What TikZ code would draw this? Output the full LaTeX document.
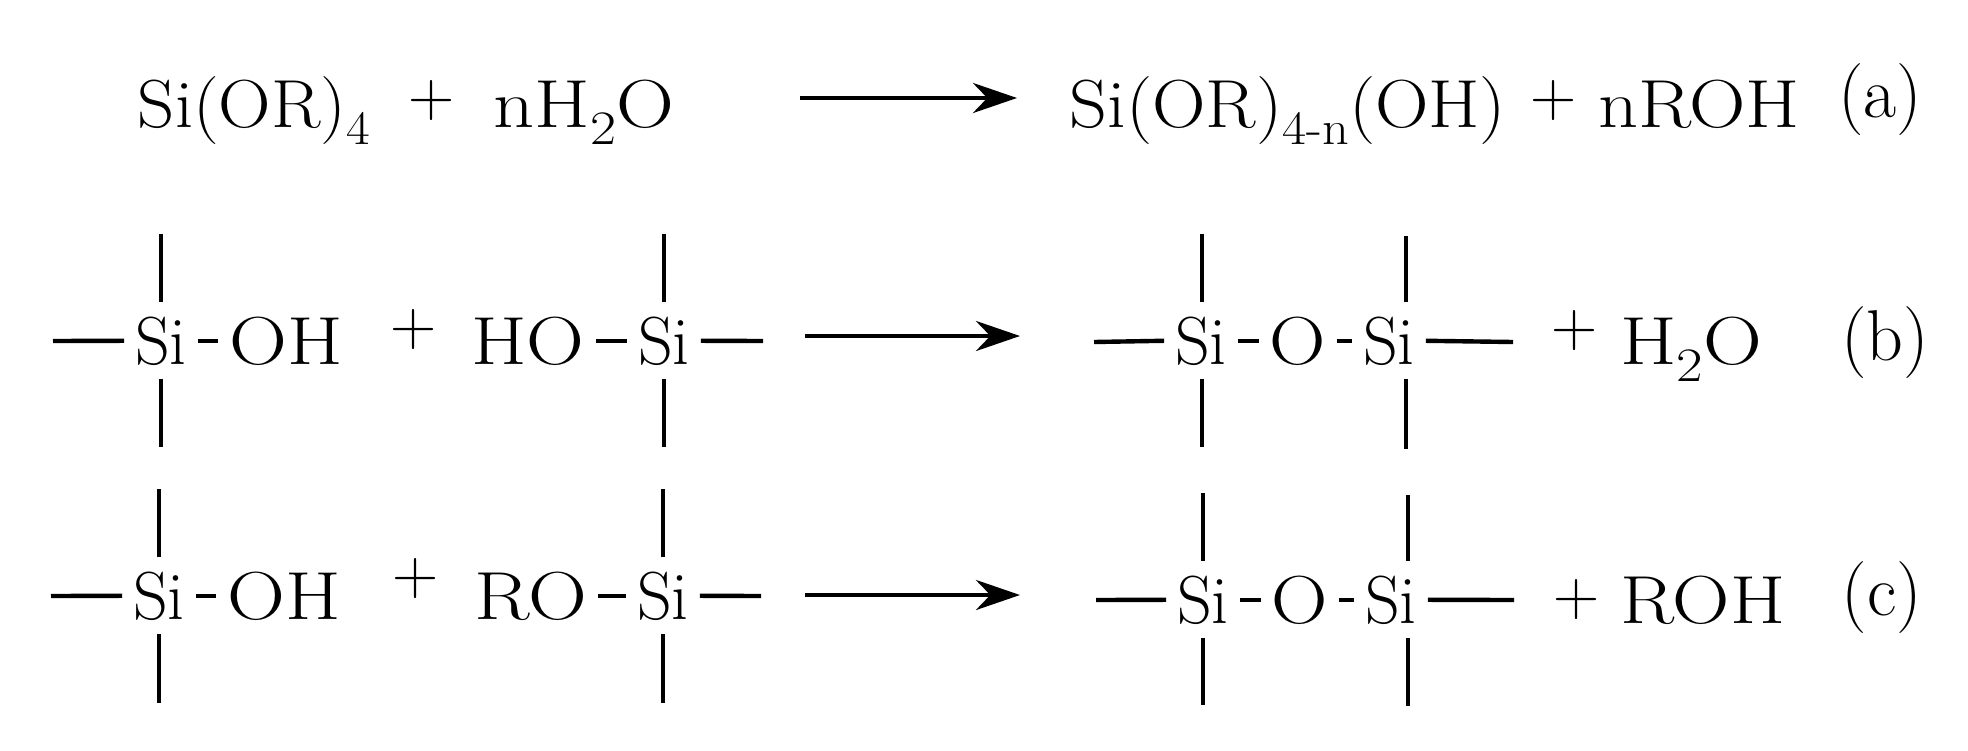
\documentclass[tikz,border=0pt]{standalone}
\usetikzlibrary{arrows.meta}
\newcommand{\chemsub}[1]{\raisebox{-8.5pt}{\fontsize{24}{24}\selectfont #1}}
\newcommand{\chemwide}[2]{\scalebox{#1}[1]{#2}}
\begin{document}
\begin{tikzpicture}[x=0.5pt,y=-0.5pt,
  chem/.style={anchor=base,inner sep=0pt,outer xsep=5.5pt,outer ysep=7pt,font=\fontsize{34}{34}\selectfont},
  plus/.style={inner sep=0pt,font=\fontsize{32}{32}\selectfont},
  tag/.style={inner sep=0pt,font=\fontsize{36}{36}\selectfont},
  bond/.style={line width=1.9pt},
  hbond/.style={line width=2.2pt},
  arrow/.style={line width=2.4pt,-{Stealth[length=22pt,width=15pt]}}]
  \useasboundingbox (0,0) rectangle (1968,750);
  %Reaction a
  \node[chem] (reactA) at (254,127) {\chemwide{1.07}{Si(OR)\chemsub{4}}};
  \node[plus] (plusA) at (432,101) {+};
  \node[chem] (waterA) at (584,127) {\chemwide{1.18}{nH\chemsub{2}O}};
  \coordinate (arrAs) at (800,98);
  \coordinate (arrAe) at (1017,98);
  \draw[arrow] (arrAs) -- (arrAe);
  \node[chem] (prodA) at (1288,127) {\chemwide{1.09}{Si(OR)\chemsub{4-n}(OH)}};
  \node[plus] (plusAr) at (1554,101) {+};
  \node[chem] (rohA) at (1699,127) {\chemwide{1.15}{nROH}};
  \node[tag] (tagA) at (1880,100) {(a)};

  %Reaction b, left side
  \node[chem] (siB1) at (161,364) {Si};
  \node[chem] (ohB) at (286,364) {\chemwide{1.18}{OH}};
  \node[plus] (plusB) at (414,330) {+};
  \node[chem] (hoB) at (528,364) {\chemwide{1.18}{HO}};
  \node[chem] (siB2) at (664,364) {Si};
  \coordinate (endB1) at (53,341);
  \coordinate (endB2) at (763,341);
  \draw[hbond] (endB1) -- (siB1.west);
  \draw[hbond] (siB1.east) -- (ohB.west);
  \draw[hbond] (hoB.east) -- (siB2.west);
  \draw[hbond] (siB2.east) -- (endB2);
  \coordinate (upB1) at (161,234);
  \coordinate (upB2) at (664,234);
  \coordinate (dnB1) at (161,447);
  \coordinate (dnB2) at (664,447);
  \draw[bond] (upB1) -- (siB1.north);
  \draw[bond] (siB1.south) -- (dnB1);
  \draw[bond] (upB2) -- (siB2.north);
  \draw[bond] (siB2.south) -- (dnB2);
  \coordinate (arrBs) at (805,336);
  \coordinate (arrBe) at (1020,336);
  \draw[arrow] (arrBs) -- (arrBe);
  %Reaction b, right side
  \node[chem] (siB3) at (1201,364) {Si};
  \node[chem] (oB) at (1298,364) {\chemwide{1.15}{O}};
  \node[chem] (siB4) at (1389,364) {Si};
  \coordinate (endB3) at (1094,342);
  \coordinate (endB4) at (1513,342);
  \draw[hbond] (endB3) -- (siB3.west);
  \draw[hbond] (siB3.east) -- (oB.west);
  \draw[hbond] (oB.east) -- (siB4.west);
  \draw[hbond] (siB4.east) -- (endB4);
  \coordinate (upB3) at (1202,234);
  \coordinate (upB4) at (1406,236);
  \coordinate (dnB3) at (1202,447);
  \coordinate (dnB4) at (1406,449);
  \draw[bond] (upB3) -- (upB3 |- siB3.north);
  \draw[bond] (upB3 |- siB3.south) -- (dnB3);
  \draw[bond] (upB4) -- (upB4 |- siB4.north);
  \draw[bond] (upB4 |- siB4.south) -- (dnB4);
  \node[plus] (plusBr) at (1575,331) {+};
  \node[chem] (waterB) at (1691,364) {\chemwide{1.2}{H\chemsub{2}O}};
  \node[tag] (tagB) at (1885,343) {(b)};

  %Reaction c, left side
  \node[chem] (siC1) at (159,619) {Si};
  \node[chem] (ohC) at (284,619) {\chemwide{1.18}{OH}};
  \node[plus] (plusC) at (416,579) {+};
  \node[chem] (roC) at (531,619) {\chemwide{1.2}{RO}};
  \node[chem] (siC2) at (663,619) {Si};
  \coordinate (endC1) at (51,596);
  \coordinate (endC2) at (761,596);
  \draw[hbond] (endC1) -- (siC1.west);
  \draw[hbond] (siC1.east) -- (ohC.west);
  \draw[hbond] (roC.east) -- (siC2.west);
  \draw[hbond] (siC2.east) -- (endC2);
  \coordinate (upC1) at (159,489);
  \coordinate (upC2) at (663,489);
  \coordinate (dnC1) at (159,703);
  \coordinate (dnC2) at (663,703);
  \draw[bond] (upC1) -- (siC1.north);
  \draw[bond] (siC1.south) -- (dnC1);
  \draw[bond] (upC2) -- (siC2.north);
  \draw[bond] (siC2.south) -- (dnC2);
  \coordinate (arrCs) at (805,595);
  \coordinate (arrCe) at (1020,595);
  \draw[arrow] (arrCs) -- (arrCe);
  %Reaction c, right side
  \node[chem] (siC3) at (1203,623) {Si};
  \node[chem] (oC) at (1300,623) {\chemwide{1.15}{O}};
  \node[chem] (siC4) at (1391,623) {Si};
  \coordinate (endC3) at (1096,600);
  \coordinate (endC4) at (1514,600);
  \draw[hbond] (endC3) -- (siC3.west);
  \draw[hbond] (siC3.east) -- (oC.west);
  \draw[hbond] (oC.east) -- (siC4.west);
  \draw[hbond] (siC4.east) -- (endC4);
  \coordinate (upC3) at (1203,493);
  \coordinate (upC4) at (1408,495);
  \coordinate (dnC3) at (1203,705);
  \coordinate (dnC4) at (1408,706);
  \draw[bond] (upC3) -- (upC3 |- siC3.north);
  \draw[bond] (upC3 |- siC3.south) -- (dnC3);
  \draw[bond] (upC4) -- (upC4 |- siC4.north);
  \draw[bond] (upC4 |- siC4.south) -- (dnC4);
  \node[plus] (plusCr) at (1577,600) {+};
  \node[chem] (rohC) at (1703,623) {\chemwide{1.17}{ROH}};
  \node[tag] (tagC) at (1882,598) {(c)};
\end{tikzpicture}
\end{document}
